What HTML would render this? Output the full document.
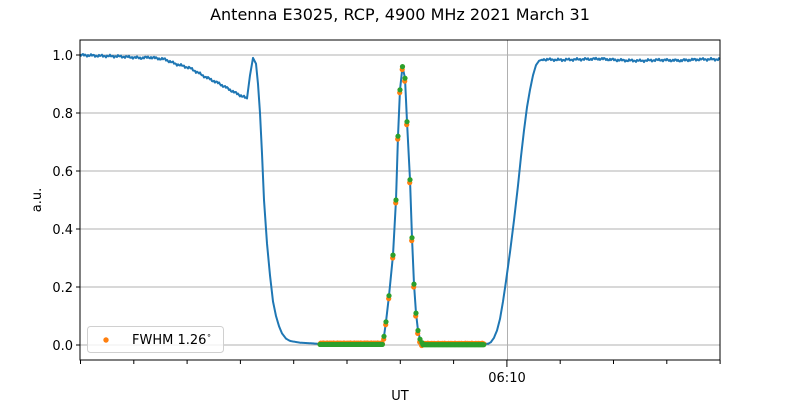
<!DOCTYPE html>
<html><head><meta charset="utf-8"><style>
html,body{margin:0;padding:0;background:#fff;}
svg text{font-family:"DejaVu Sans","Liberation Sans",sans-serif;fill:#000;}
</style></head><body>
<svg id="s" width="800" height="400" viewBox="0 0 800 400" xmlns="http://www.w3.org/2000/svg">
<rect width="800" height="400" fill="#fff"/>
<text x="400" y="20" font-size="16" text-anchor="middle">Antenna E3025, RCP, 4900 MHz 2021 March 31</text>
<g id="grid" stroke="#b0b0b0" stroke-width="1"></g>
<path id="blue" fill="none" stroke="#1f77b4" stroke-width="2" stroke-linejoin="round"/>
<g id="dots"></g>
<rect x="80" y="40" width="640" height="320" fill="none" stroke="#000" stroke-width="1"/>
<g id="ticks" stroke="#000" stroke-width="1"></g>
<g id="ylab" font-size="13" text-anchor="end"></g>
<text x="507" y="382" font-size="13" text-anchor="middle">06:10</text>
<text x="400" y="400" font-size="13" text-anchor="middle">UT</text>
<text x="41" y="200" font-size="13" text-anchor="middle" transform="rotate(-90 41 200)">a.u.</text>
<rect x="87.5" y="326.5" width="136" height="26" rx="3" fill="#fff" fill-opacity="0.8" stroke="#d0d0d0"/>
<circle cx="106" cy="340" r="2.7" fill="#ff7f0e"/>
<text x="132" y="344" font-size="13">FWHM 1.26<tspan font-size="8" dy="-6">∘</tspan></text>
</svg>
<script>
const NS="http://www.w3.org/2000/svg";
function Y(v){return 345-290*v;}
const g=document.getElementById('grid'),t=document.getElementById('ticks'),yl=document.getElementById('ylab');
function ln(p,x1,y1,x2,y2){const l=document.createElementNS(NS,'line');l.setAttribute('x1',x1);l.setAttribute('y1',y1);l.setAttribute('x2',x2);l.setAttribute('y2',y2);p.appendChild(l);}
for(let i=0;i<=5;i++){const y=Y(i*0.2);ln(g,80,y,720,y);ln(t,76,y,80,y);
 const tx=document.createElementNS(NS,'text');tx.setAttribute('x',73);tx.setAttribute('y',y+5);tx.textContent=(i*0.2).toFixed(1);yl.appendChild(tx);}
ln(g,507.5,40,507.5,360);
for(let i=0;i<=12;i++){const x=80.5+i*53.3;ln(t,x,360,x,i==8?367:364);}
const K=[[80,1.0],[100,0.997],[120,0.995],[140,0.99],[150,0.992],[165,0.985],[175,0.97],[190,0.955],[205,0.925],[220,0.9],[235,0.87],[247,0.85],[250,0.93],[253,0.99],[256,0.97],[258,0.9],[260,0.8],[262,0.66],[264,0.5],[267,0.35],[270,0.24],[273,0.15],[276,0.1],[279,0.065],[282,0.04],[286,0.022],[290,0.014],[300,0.008],[320,0.004],
[382,0.005],[384,0.03],[386,0.08],[389,0.17],[393,0.31],[396,0.5],[398,0.72],[400,0.88],[402.5,0.96],[405,0.92],[407,0.77],[410,0.57],[412,0.37],[414,0.21],[416,0.11],[418,0.05],[420,0.02],[423,0.004],[488,0.004],[491,0.01],[494,0.025],[497,0.05],[500,0.09],[503,0.15],[506,0.22],[510,0.32],[514,0.43],[518,0.55],[521,0.65],[524,0.74],[527,0.82],[530,0.88],[533,0.93],[536,0.965],[539,0.98],[543,0.985],[560,0.983],[580,0.985],[600,0.987],[620,0.982],[640,0.98],[660,0.983],[680,0.981],[700,0.985],[720,0.985]];
function f(x){for(let i=1;i<K.length;i++){if(x<=K[i][0]){const a=K[i-1],b=K[i];return a[1]+(b[1]-a[1])*(x-a[0])/(b[0]-a[0]);}}return K[K.length-1][1];}
let pts=[];
for(let x=80;x<=720;x+=1){
  if(x>=247&&x<=260){continue;}
  if(x>=380&&x<=425){continue;}
  let v=f(x);if(x<247||x>542)v+=Math.sin(x*2.3)*0.003+Math.sin(x*0.7)*0.002;
  pts.push([x,v]);
}
K.forEach(p=>{if((p[0]>=247&&p[0]<=260)||(p[0]>=380&&p[0]<=425))pts.push(p);});
pts.sort((a,b)=>a[0]-b[0]);
let d='';pts.forEach((p,i)=>{d+=(i?'L':'M')+p[0].toFixed(1)+','+Y(p[1]).toFixed(1);});
document.getElementById('blue').setAttribute('d',d);
const dots=document.getElementById('dots');
function dot(x,v,c){const e=document.createElementNS(NS,'circle');e.setAttribute('cx',x);e.setAttribute('cy',Y(v));e.setAttribute('r',2.6);e.setAttribute('fill',c);dots.appendChild(e);}
const pk=[[384,0.03],[386,0.08],[389,0.17],[393,0.31],[396,0.5],[398,0.72],[400,0.88],[402.5,0.96],[405,0.92],[407,0.77],[410,0.57],[412,0.37],[414,0.21],[416,0.11],[418,0.05],[420,0.02],[422,0.008]];
const O=[],G=[];
for(let x=320;x<=383;x+=0.8){O.push([x,0.005+(Math.sin(x*3)*0.002)]);G.push([x,0.002]);}
for(let x=423;x<=484;x+=0.8){O.push([x,0.004+(Math.sin(x*3)*0.002)]);G.push([x,0.001]);}
pk.forEach(p=>{O.push([p[0]-0.3,p[1]-0.01]);G.push([p[0],p[1]]);});
O.forEach(p=>dot(p[0],p[1],'#ff7f0e'));
G.forEach(p=>dot(p[0],p[1],'#2ca02c'));
</script>
</body></html>
